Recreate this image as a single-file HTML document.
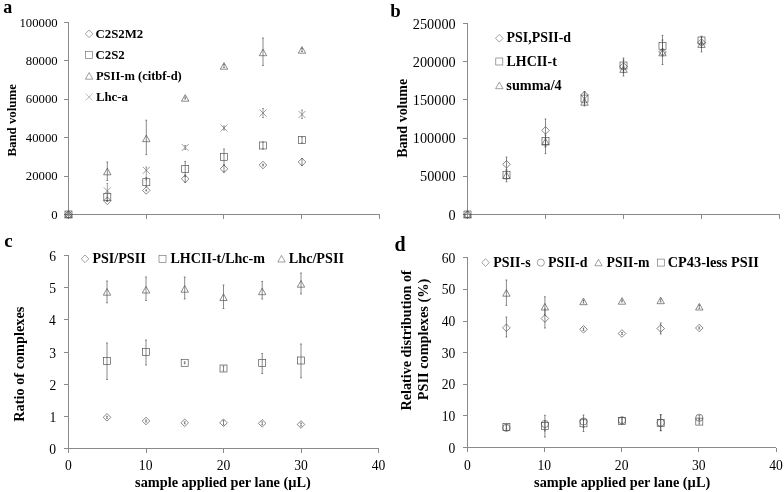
<!DOCTYPE html>
<html><head><meta charset="utf-8"><title>Figure</title>
<style>
html,body{margin:0;padding:0;background:#fff;}
svg{display:block;}
text{font-family:"Liberation Serif","Times New Roman",serif;fill:#000;}
text.b{font-weight:bold;}
</style></head><body>
<svg width="784" height="492" viewBox="0 0 784 492">
<rect width="784" height="492" fill="#fff"/>
<text class="b" font-size="18" transform="translate(3.36,13.40) scale(1.0000,1)">a</text>
<g stroke="#8a8a8a" stroke-width="1" fill="none" shape-rendering="crispEdges"><path d="M68.5 22.5L68.5 214.5M68.5 214.5L380 214.5"/><path d="M64.0 214.5L68.5 214.5"/><path d="M64.0 176.1L68.5 176.1"/><path d="M64.0 137.7L68.5 137.7"/><path d="M64.0 99.3L68.5 99.3"/><path d="M64.0 60.9L68.5 60.9"/><path d="M64.0 22.5L68.5 22.5"/><path d="M68.5 214.5L68.5 218.5"/><path d="M146.5 214.5L146.5 218.5"/><path d="M223.5 214.5L223.5 218.5"/><path d="M301.5 214.5L301.5 218.5"/><path d="M379.5 214.5L379.5 218.5"/></g>
<text class="r" font-size="12.6" transform="translate(51.28,218.50) scale(1.0100,1)" fill="#1c1c1c">0</text>
<text class="r" font-size="12.6" transform="translate(25.83,180.10) scale(1.0100,1)" fill="#1c1c1c">20000</text>
<text class="r" font-size="12.6" transform="translate(25.83,141.70) scale(1.0100,1)" fill="#1c1c1c">40000</text>
<text class="r" font-size="12.6" transform="translate(25.83,103.30) scale(1.0100,1)" fill="#1c1c1c">60000</text>
<text class="r" font-size="12.6" transform="translate(25.83,64.90) scale(1.0100,1)" fill="#1c1c1c">80000</text>
<text class="r" font-size="12.6" transform="translate(19.47,26.50) scale(1.0100,1)" fill="#1c1c1c">100000</text>
<text class="b" font-size="13.4" transform="translate(16.30,156.49) rotate(-90) scale(0.9582,1)">Band volume</text>
<g stroke="#4a4a4a" stroke-width="0.65" fill="none"><path d="M64.70 214.50L68.50 210.70L72.30 214.50L68.50 218.30Z"/><path d="M107.30 200.20L107.30 201.40M106.40 200.20L108.20 200.20M106.40 201.40L108.20 201.40"/><path d="M103.50 200.80L107.30 197.00L111.10 200.80L107.30 204.60Z"/><path d="M146.30 189.90L146.30 190.90M145.40 189.90L147.20 189.90M145.40 190.90L147.20 190.90"/><path d="M142.50 190.40L146.30 186.60L150.10 190.40L146.30 194.20Z"/><path d="M185.20 175.00L185.20 182.50M184.30 175.00L186.10 175.00M184.30 182.50L186.10 182.50"/><path d="M181.40 178.80L185.20 175.00L189.00 178.80L185.20 182.60Z"/><path d="M224.00 165.50L224.00 172.00M223.10 165.50L224.90 165.50M223.10 172.00L224.90 172.00"/><path d="M220.20 168.80L224.00 165.00L227.80 168.80L224.00 172.60Z"/><path d="M263.00 164.20L263.00 165.80M262.10 164.20L263.90 164.20M262.10 165.80L263.90 165.80"/><path d="M259.20 165.00L263.00 161.20L266.80 165.00L263.00 168.80Z"/><path d="M302.00 158.50L302.00 165.50M301.10 158.50L302.90 158.50M301.10 165.50L302.90 165.50"/><path d="M298.20 162.00L302.00 158.20L305.80 162.00L302.00 165.80Z"/></g>
<g stroke="#4a4a4a" stroke-width="0.65" fill="none"><rect x="65.00" y="211.00" width="7.00" height="7.00"/><path d="M107.30 193.00L107.30 201.00M106.40 193.00L108.20 193.00M106.40 201.00L108.20 201.00"/><rect x="103.80" y="193.50" width="7.00" height="7.00"/><path d="M146.30 177.50L146.30 187.00M145.40 177.50L147.20 177.50M145.40 187.00L147.20 187.00"/><rect x="142.80" y="178.70" width="7.00" height="7.00"/><path d="M185.20 161.50L185.20 176.50M184.30 161.50L186.10 161.50M184.30 176.50L186.10 176.50"/><rect x="181.70" y="165.50" width="7.00" height="7.00"/><path d="M224.00 149.00L224.00 164.50M223.10 149.00L224.90 149.00M223.10 164.50L224.90 164.50"/><rect x="220.50" y="153.30" width="7.00" height="7.00"/><path d="M263.00 142.00L263.00 149.00M262.10 142.00L263.90 142.00M262.10 149.00L263.90 149.00"/><rect x="259.50" y="142.00" width="7.00" height="7.00"/><path d="M302.00 137.00L302.00 143.00M301.10 137.00L302.90 137.00M301.10 143.00L302.90 143.00"/><rect x="298.50" y="136.50" width="7.00" height="7.00"/></g>
<g stroke="#4a4a4a" stroke-width="0.65" fill="none"><path d="M68.50 210.90L72.20 217.50L64.80 217.50Z"/><path d="M107.30 162.00L107.30 180.50M106.40 162.00L108.20 162.00M106.40 180.50L108.20 180.50"/><path d="M107.30 168.20L111.00 174.80L103.60 174.80Z"/><path d="M146.30 120.20L146.30 154.60M145.40 120.20L147.20 120.20M145.40 154.60L147.20 154.60"/><path d="M146.30 135.10L150.00 141.70L142.60 141.70Z"/><path d="M185.20 97.00L185.20 99.00M184.30 97.00L186.10 97.00M184.30 99.00L186.10 99.00"/><path d="M185.20 94.60L188.90 101.20L181.50 101.20Z"/><path d="M224.00 64.50L224.00 67.50M223.10 64.50L224.90 64.50M223.10 67.50L224.90 67.50"/><path d="M224.00 62.60L227.70 69.20L220.30 69.20Z"/><path d="M263.00 38.00L263.00 65.50M262.10 38.00L263.90 38.00M262.10 65.50L263.90 65.50"/><path d="M263.00 49.10L266.70 55.70L259.30 55.70Z"/><path d="M302.00 48.50L302.00 51.50M301.10 48.50L302.90 48.50M301.10 51.50L302.90 51.50"/><path d="M302.00 46.60L305.70 53.20L298.30 53.20Z"/></g>
<g stroke="#6a6a6a" stroke-width="0.65" fill="none"><path d="M65.00 211.00L72.00 218.00M65.00 218.00L72.00 211.00"/><path d="M107.30 183.40L107.30 198.00M106.40 183.40L108.20 183.40M106.40 198.00L108.20 198.00"/><path d="M103.80 187.40L110.80 194.40M103.80 194.40L110.80 187.40"/><path d="M146.30 167.00L146.30 180.00M145.40 167.00L147.20 167.00M145.40 180.00L147.20 180.00"/><path d="M142.80 166.80L149.80 173.80M142.80 173.80L149.80 166.80"/><path d="M185.20 145.50L185.20 149.50M184.30 145.50L186.10 145.50M184.30 149.50L186.10 149.50"/><path d="M181.70 144.00L188.70 151.00M181.70 151.00L188.70 144.00"/><path d="M224.00 126.00L224.00 130.00M223.10 126.00L224.90 126.00M223.10 130.00L224.90 130.00"/><path d="M220.50 124.50L227.50 131.50M220.50 131.50L227.50 124.50"/><path d="M263.00 108.50L263.00 117.50M262.10 108.50L263.90 108.50M262.10 117.50L263.90 117.50"/><path d="M259.50 109.50L266.50 116.50M259.50 116.50L266.50 109.50"/><path d="M302.00 110.00L302.00 118.50M301.10 110.00L302.90 110.00M301.10 118.50L302.90 118.50"/><path d="M298.50 111.00L305.50 118.00M298.50 118.00L305.50 111.00"/></g>
<g stroke="#6e6e6e" stroke-width="0.65" fill="none"><path d="M85.30 33.80L89.10 30.00L92.90 33.80L89.10 37.60Z"/></g>
<text class="b" font-size="12.6" transform="translate(95.46,38.00) scale(1.0200,1)">C2S2M2</text>
<g stroke="#6e6e6e" stroke-width="0.65" fill="none"><rect x="85.60" y="51.40" width="7.00" height="7.00"/></g>
<text class="b" font-size="12.6" transform="translate(95.46,59.00) scale(1.0200,1)">C2S2</text>
<g stroke="#6e6e6e" stroke-width="0.65" fill="none"><path d="M89.10 72.60L92.80 79.20L85.40 79.20Z"/></g>
<text class="b" font-size="12.6" transform="translate(95.91,80.00) scale(0.9948,1)">PSII-m (citbf-d)</text>
<g stroke="#9a9a9a" stroke-width="0.65" fill="none"><path d="M85.60 93.50L92.60 100.50M85.60 100.50L92.60 93.50"/></g>
<text class="b" font-size="12.6" transform="translate(95.91,101.00) scale(1.0200,1)">Lhc-a</text>
<text class="b" font-size="18.8" transform="translate(390.31,17.30) scale(1.0000,1)">b</text>
<g stroke="#8a8a8a" stroke-width="1" fill="none" shape-rendering="crispEdges"><path d="M467.5 23.5L467.5 214.5M467.5 214.5L779.5 214.5"/><path d="M463.0 214.5L467.5 214.5"/><path d="M463.0 176.2L467.5 176.2"/><path d="M463.0 138L467.5 138"/><path d="M463.0 99.8L467.5 99.8"/><path d="M463.0 61.5L467.5 61.5"/><path d="M463.0 23.5L467.5 23.5"/><path d="M467.5 214.5L467.5 218.5"/><path d="M545.5 214.5L545.5 218.5"/><path d="M623.5 214.5L623.5 218.5"/><path d="M701.5 214.5L701.5 218.5"/><path d="M779.5 214.5L779.5 218.5"/></g>
<text class="r" font-size="13.8" transform="translate(448.56,219.50) scale(1.0350,1)" fill="#1c1c1c">0</text>
<text class="r" font-size="13.8" transform="translate(419.99,181.20) scale(1.0350,1)" fill="#1c1c1c">50000</text>
<text class="r" font-size="13.8" transform="translate(412.85,143.00) scale(1.0350,1)" fill="#1c1c1c">100000</text>
<text class="r" font-size="13.8" transform="translate(412.85,104.80) scale(1.0350,1)" fill="#1c1c1c">150000</text>
<text class="r" font-size="13.8" transform="translate(412.85,66.50) scale(1.0350,1)" fill="#1c1c1c">200000</text>
<text class="r" font-size="13.8" transform="translate(412.85,28.50) scale(1.0350,1)" fill="#1c1c1c">250000</text>
<text class="b" font-size="14" transform="translate(406.50,157.71) rotate(-90) scale(0.9987,1)">Band volume</text>
<g stroke="#4a4a4a" stroke-width="0.65" fill="none"><path d="M463.70 214.50L467.50 210.70L471.30 214.50L467.50 218.30Z"/><path d="M506.50 157.00L506.50 170.00M505.60 157.00L507.40 157.00M505.60 170.00L507.40 170.00"/><path d="M502.70 164.30L506.50 160.50L510.30 164.30L506.50 168.10Z"/><path d="M545.50 119.00L545.50 153.60M544.60 119.00L546.40 119.00M544.60 153.60L546.40 153.60"/><path d="M541.70 130.40L545.50 126.60L549.30 130.40L545.50 134.20Z"/><path d="M584.50 91.50L584.50 99.00M583.60 91.50L585.40 91.50M583.60 99.00L585.40 99.00"/><path d="M580.70 95.00L584.50 91.20L588.30 95.00L584.50 98.80Z"/><path d="M623.50 58.00L623.50 76.00M622.60 58.00L624.40 58.00M622.60 76.00L624.40 76.00"/><path d="M619.70 66.50L623.50 62.70L627.30 66.50L623.50 70.30Z"/><path d="M662.50 35.30L662.50 64.50M661.60 35.30L663.40 35.30M661.60 64.50L663.40 64.50"/><path d="M658.70 52.00L662.50 48.20L666.30 52.00L662.50 55.80Z"/><path d="M701.50 36.20L701.50 51.90M700.60 36.20L702.40 36.20M700.60 51.90L702.40 51.90"/><path d="M697.70 42.50L701.50 38.70L705.30 42.50L701.50 46.30Z"/></g>
<g stroke="#4a4a4a" stroke-width="0.65" fill="none"><rect x="464.00" y="211.00" width="7.00" height="7.00"/><path d="M506.50 170.00L506.50 181.80M505.60 170.00L507.40 170.00M505.60 181.80L507.40 181.80"/><rect x="503.00" y="171.30" width="7.00" height="7.00"/><path d="M545.50 135.00L545.50 147.00M544.60 135.00L546.40 135.00M544.60 147.00L546.40 147.00"/><rect x="542.00" y="137.50" width="7.00" height="7.00"/><path d="M584.50 93.00L584.50 104.00M583.60 93.00L585.40 93.00M583.60 104.00L585.40 104.00"/><rect x="581.00" y="95.10" width="7.00" height="7.00"/><path d="M623.50 60.00L623.50 71.00M622.60 60.00L624.40 60.00M622.60 71.00L624.40 71.00"/><rect x="620.00" y="62.00" width="7.00" height="7.00"/><path d="M662.50 40.00L662.50 51.00M661.60 40.00L663.40 40.00M661.60 51.00L663.40 51.00"/><rect x="659.00" y="42.30" width="7.00" height="7.00"/><path d="M701.50 37.00L701.50 44.00M700.60 37.00L702.40 37.00M700.60 44.00L702.40 44.00"/><rect x="698.00" y="37.00" width="7.00" height="7.00"/></g>
<g stroke="#4a4a4a" stroke-width="0.65" fill="none"><path d="M467.50 210.90L471.20 217.50L463.80 217.50Z"/><path d="M506.50 172.00L506.50 179.00M505.60 172.00L507.40 172.00M505.60 179.00L507.40 179.00"/><path d="M506.50 172.10L510.20 178.70L502.80 178.70Z"/><path d="M545.50 138.00L545.50 146.00M544.60 138.00L546.40 138.00M544.60 146.00L546.40 146.00"/><path d="M545.50 138.40L549.20 145.00L541.80 145.00Z"/><path d="M584.50 99.00L584.50 106.00M583.60 99.00L585.40 99.00M583.60 106.00L585.40 106.00"/><path d="M584.50 98.60L588.20 105.20L580.80 105.20Z"/><path d="M623.50 65.00L623.50 73.00M622.60 65.00L624.40 65.00M622.60 73.00L624.40 73.00"/><path d="M623.50 65.80L627.20 72.40L619.80 72.40Z"/><path d="M662.50 49.00L662.50 56.00M661.60 49.00L663.40 49.00M661.60 56.00L663.40 56.00"/><path d="M662.50 49.20L666.20 55.80L658.80 55.80Z"/><path d="M701.50 41.00L701.50 47.50M700.60 41.00L702.40 41.00M700.60 47.50L702.40 47.50"/><path d="M701.50 40.80L705.20 47.40L697.80 47.40Z"/></g>
<g stroke="#6e6e6e" stroke-width="0.65" fill="none"><path d="M495.50 38.30L499.30 34.50L503.10 38.30L499.30 42.10Z"/></g>
<text class="b" font-size="13.9" transform="translate(506.59,42.30) scale(1.0000,1)">PSI,PSII-d</text>
<g stroke="#6e6e6e" stroke-width="0.65" fill="none"><rect x="495.80" y="58.00" width="7.00" height="7.00"/></g>
<text class="b" font-size="13.9" transform="translate(506.59,65.50) scale(1.0000,1)">LHCII-t</text>
<g stroke="#6e6e6e" stroke-width="0.65" fill="none"><path d="M499.30 82.10L503.00 88.70L495.60 88.70Z"/></g>
<text class="b" font-size="13.9" transform="translate(506.37,89.60) scale(1.0253,1)">summa/4</text>
<text class="b" font-size="19" transform="translate(4.33,246.70) scale(1.0000,1)">c</text>
<g stroke="#8a8a8a" stroke-width="1" fill="none" shape-rendering="crispEdges"><path d="M68.5 255.5L68.5 448.5M68.5 448.5L378.5 448.5"/><path d="M64.0 448.5L68.5 448.5"/><path d="M64.0 416.5L68.5 416.5"/><path d="M64.0 384.5L68.5 384.5"/><path d="M64.0 352.5L68.5 352.5"/><path d="M64.0 319.5L68.5 319.5"/><path d="M64.0 287.5L68.5 287.5"/><path d="M64.0 255.5L68.5 255.5"/><path d="M68.5 448.5L68.5 452.5"/><path d="M146 448.5L146 452.5"/><path d="M223.5 448.5L223.5 452.5"/><path d="M301 448.5L301 452.5"/><path d="M378.5 448.5L378.5 452.5"/></g>
<text class="r" font-size="13.6" transform="translate(49.28,453.70) scale(1.0000,1)" fill="#1c1c1c">0</text>
<text class="r" font-size="13.6" transform="translate(49.62,421.70) scale(1.0000,1)" fill="#1c1c1c">1</text>
<text class="r" font-size="13.6" transform="translate(49.55,389.70) scale(1.0000,1)" fill="#1c1c1c">2</text>
<text class="r" font-size="13.6" transform="translate(49.34,357.70) scale(1.0000,1)" fill="#1c1c1c">3</text>
<text class="r" font-size="13.6" transform="translate(49.00,324.70) scale(1.0000,1)" fill="#1c1c1c">4</text>
<text class="r" font-size="13.6" transform="translate(49.34,292.70) scale(1.0000,1)" fill="#1c1c1c">5</text>
<text class="r" font-size="13.6" transform="translate(49.21,260.70) scale(1.0000,1)" fill="#1c1c1c">6</text>
<text class="r" font-size="13.6" transform="translate(65.10,469.60) scale(1.0000,1)" fill="#1c1c1c">0</text>
<text class="r" font-size="13.6" transform="translate(138.86,469.60) scale(1.0000,1)" fill="#1c1c1c">10</text>
<text class="r" font-size="13.6" transform="translate(216.63,469.60) scale(1.0000,1)" fill="#1c1c1c">20</text>
<text class="r" font-size="13.6" transform="translate(294.13,469.60) scale(1.0000,1)" fill="#1c1c1c">30</text>
<text class="r" font-size="13.6" transform="translate(371.80,469.60) scale(1.0000,1)" fill="#1c1c1c">40</text>
<text class="b" font-size="14.2" transform="translate(23.50,421.71) rotate(-90) scale(1.0060,1)">Ratio of complexes</text>
<text class="b" font-size="14.2" transform="translate(135.07,487.00) scale(1.0093,1)">sample applied per lane (µL)</text>
<g stroke="#4a4a4a" stroke-width="0.65" fill="none"><path d="M107.00 416.30L107.00 418.30M106.10 416.30L107.90 416.30M106.10 418.30L107.90 418.30"/><path d="M103.20 417.30L107.00 413.50L110.80 417.30L107.00 421.10Z"/><path d="M146.00 420.00L146.00 422.00M145.10 420.00L146.90 420.00M145.10 422.00L146.90 422.00"/><path d="M142.20 421.00L146.00 417.20L149.80 421.00L146.00 424.80Z"/><path d="M184.70 421.80L184.70 423.80M183.80 421.80L185.60 421.80M183.80 423.80L185.60 423.80"/><path d="M180.90 422.80L184.70 419.00L188.50 422.80L184.70 426.60Z"/><path d="M223.50 420.50L223.50 425.00M222.60 420.50L224.40 420.50M222.60 425.00L224.40 425.00"/><path d="M219.70 422.80L223.50 419.00L227.30 422.80L223.50 426.60Z"/><path d="M262.20 421.80L262.20 424.80M261.30 421.80L263.10 421.80M261.30 424.80L263.10 424.80"/><path d="M258.40 423.30L262.20 419.50L266.00 423.30L262.20 427.10Z"/><path d="M301.00 423.00L301.00 426.00M300.10 423.00L301.90 423.00M300.10 426.00L301.90 426.00"/><path d="M297.20 424.50L301.00 420.70L304.80 424.50L301.00 428.30Z"/></g>
<g stroke="#4a4a4a" stroke-width="0.65" fill="none"><path d="M107.00 343.00L107.00 379.50M106.10 343.00L107.90 343.00M106.10 379.50L107.90 379.50"/><rect x="103.50" y="357.50" width="7.00" height="7.00"/><path d="M146.00 340.00L146.00 365.00M145.10 340.00L146.90 340.00M145.10 365.00L146.90 365.00"/><rect x="142.50" y="348.50" width="7.00" height="7.00"/><path d="M184.70 361.80L184.70 363.80M183.80 361.80L185.60 361.80M183.80 363.80L185.60 363.80"/><rect x="181.20" y="359.30" width="7.00" height="7.00"/><path d="M223.50 366.00L223.50 371.00M222.60 366.00L224.40 366.00M222.60 371.00L224.40 371.00"/><rect x="220.00" y="365.00" width="7.00" height="7.00"/><path d="M262.20 353.50L262.20 373.50M261.30 353.50L263.10 353.50M261.30 373.50L263.10 373.50"/><rect x="258.70" y="359.50" width="7.00" height="7.00"/><path d="M301.00 344.00L301.00 377.80M300.10 344.00L301.90 344.00M300.10 377.80L301.90 377.80"/><rect x="297.50" y="357.00" width="7.00" height="7.00"/></g>
<g stroke="#4a4a4a" stroke-width="0.65" fill="none"><path d="M107.00 281.00L107.00 302.80M106.10 281.00L107.90 281.00M106.10 302.80L107.90 302.80"/><path d="M107.00 288.60L110.70 295.20L103.30 295.20Z"/><path d="M146.00 277.00L146.00 300.50M145.10 277.00L146.90 277.00M145.10 300.50L146.90 300.50"/><path d="M146.00 286.40L149.70 293.00L142.30 293.00Z"/><path d="M184.70 277.00L184.70 299.00M183.80 277.00L185.60 277.00M183.80 299.00L185.60 299.00"/><path d="M184.70 285.60L188.40 292.20L181.00 292.20Z"/><path d="M223.50 285.00L223.50 308.50M222.60 285.00L224.40 285.00M222.60 308.50L224.40 308.50"/><path d="M223.50 293.90L227.20 300.50L219.80 300.50Z"/><path d="M262.20 281.50L262.20 299.00M261.30 281.50L263.10 281.50M261.30 299.00L263.10 299.00"/><path d="M262.20 288.10L265.90 294.70L258.50 294.70Z"/><path d="M301.00 273.00L301.00 294.00M300.10 273.00L301.90 273.00M300.10 294.00L301.90 294.00"/><path d="M301.00 280.60L304.70 287.20L297.30 287.20Z"/></g>
<g stroke="#6e6e6e" stroke-width="0.65" fill="none"><path d="M81.20 258.80L85.00 255.00L88.80 258.80L85.00 262.60Z"/></g>
<text class="b" font-size="13.95" transform="translate(92.39,263.10) scale(1.0109,1)">PSI/PSII</text>
<g stroke="#6e6e6e" stroke-width="0.65" fill="none"><rect x="159.00" y="255.30" width="7.00" height="7.00"/></g>
<text class="b" font-size="13.95" transform="translate(170.49,263.10) scale(1.0083,1)">LHCII-t/Lhc-m</text>
<g stroke="#6e6e6e" stroke-width="0.65" fill="none"><path d="M281.50 255.40L285.20 262.00L277.80 262.00Z"/></g>
<text class="b" font-size="13.95" transform="translate(288.79,263.10) scale(1.0174,1)">Lhc/PSII</text>
<text class="b" font-size="20" transform="translate(394.40,250.50) scale(1.0000,1)">d</text>
<g stroke="#8a8a8a" stroke-width="1" fill="none" shape-rendering="crispEdges"><path d="M467.5 257.8L467.5 447.5M467.5 447.5L776 447.5"/><path d="M463.0 447.5L467.5 447.5"/><path d="M463.0 415.9L467.5 415.9"/><path d="M463.0 384.2L467.5 384.2"/><path d="M463.0 352.6L467.5 352.6"/><path d="M463.0 321L467.5 321"/><path d="M463.0 289.3L467.5 289.3"/><path d="M463.0 257.8L467.5 257.8"/><path d="M467.5 447.5L467.5 451.5"/><path d="M544.6 447.5L544.6 451.5"/><path d="M621.7 447.5L621.7 451.5"/><path d="M698.9 447.5L698.9 451.5"/><path d="M776 447.5L776 451.5"/></g>
<text class="r" font-size="13.6" transform="translate(448.48,452.50) scale(1.0000,1)" fill="#1c1c1c">0</text>
<text class="r" font-size="13.6" transform="translate(441.68,420.90) scale(1.0000,1)" fill="#1c1c1c">10</text>
<text class="r" font-size="13.6" transform="translate(441.68,389.20) scale(1.0000,1)" fill="#1c1c1c">20</text>
<text class="r" font-size="13.6" transform="translate(441.68,357.60) scale(1.0000,1)" fill="#1c1c1c">30</text>
<text class="r" font-size="13.6" transform="translate(441.68,326.00) scale(1.0000,1)" fill="#1c1c1c">40</text>
<text class="r" font-size="13.6" transform="translate(441.68,294.30) scale(1.0000,1)" fill="#1c1c1c">50</text>
<text class="r" font-size="13.6" transform="translate(441.68,262.80) scale(1.0000,1)" fill="#1c1c1c">60</text>
<text class="r" font-size="13.6" transform="translate(464.10,469.60) scale(1.0000,1)" fill="#1c1c1c">0</text>
<text class="r" font-size="13.6" transform="translate(537.46,469.60) scale(1.0000,1)" fill="#1c1c1c">10</text>
<text class="r" font-size="13.6" transform="translate(614.83,469.60) scale(1.0000,1)" fill="#1c1c1c">20</text>
<text class="r" font-size="13.6" transform="translate(692.03,469.60) scale(1.0000,1)" fill="#1c1c1c">30</text>
<text class="r" font-size="13.6" transform="translate(769.30,469.60) scale(1.0000,1)" fill="#1c1c1c">40</text>
<text class="b" font-size="14.25" transform="translate(411.20,410.61) rotate(-90) scale(0.9967,1)">Relative distribution of</text>
<text class="b" font-size="14.25" transform="translate(427.60,400.21) rotate(-90) scale(1.0044,1)">PSII complexes (%)</text>
<text class="b" font-size="14.2" transform="translate(534.07,487.00) scale(1.0111,1)">sample applied per lane (µL)</text>
<g stroke="#4a4a4a" stroke-width="0.65" fill="none"><path d="M506.40 317.00L506.40 337.00M505.50 317.00L507.30 317.00M505.50 337.00L507.30 337.00"/><path d="M502.60 327.80L506.40 324.00L510.20 327.80L506.40 331.60Z"/><path d="M544.90 309.00L544.90 328.00M544.00 309.00L545.80 309.00M544.00 328.00L545.80 328.00"/><path d="M541.10 318.50L544.90 314.70L548.70 318.50L544.90 322.30Z"/><path d="M583.50 328.00L583.50 330.50M582.60 328.00L584.40 328.00M582.60 330.50L584.40 330.50"/><path d="M579.70 329.30L583.50 325.50L587.30 329.30L583.50 333.10Z"/><path d="M622.00 332.50L622.00 334.50M621.10 332.50L622.90 332.50M621.10 334.50L622.90 334.50"/><path d="M618.20 333.50L622.00 329.70L625.80 333.50L622.00 337.30Z"/><path d="M660.70 323.00L660.70 334.00M659.80 323.00L661.60 323.00M659.80 334.00L661.60 334.00"/><path d="M656.90 328.50L660.70 324.70L664.50 328.50L660.70 332.30Z"/><path d="M699.30 327.00L699.30 329.00M698.40 327.00L700.20 327.00M698.40 329.00L700.20 329.00"/><path d="M695.50 328.00L699.30 324.20L703.10 328.00L699.30 331.80Z"/></g>
<g stroke="#4a4a4a" stroke-width="0.65" fill="none"><path d="M506.40 425.00L506.40 430.50M505.50 425.00L507.30 425.00M505.50 430.50L507.30 430.50"/><circle cx="506.40" cy="427.80" r="3.6"/><path d="M544.90 415.30L544.90 437.00M544.00 415.30L545.80 415.30M544.00 437.00L545.80 437.00"/><circle cx="544.90" cy="424.00" r="3.6"/><path d="M583.50 415.00L583.50 431.50M582.60 415.00L584.40 415.00M582.60 431.50L584.40 431.50"/><circle cx="583.50" cy="421.50" r="3.6"/><path d="M622.00 417.50L622.00 423.00M621.10 417.50L622.90 417.50M621.10 423.00L622.90 423.00"/><circle cx="622.00" cy="420.30" r="3.6"/><path d="M660.70 414.70L660.70 430.70M659.80 414.70L661.60 414.70M659.80 430.70L661.60 430.70"/><circle cx="660.70" cy="422.70" r="3.6"/><path d="M699.30 415.50L699.30 420.00M698.40 415.50L700.20 415.50M698.40 420.00L700.20 420.00"/><circle cx="699.30" cy="417.80" r="3.6"/></g>
<g stroke="#4a4a4a" stroke-width="0.65" fill="none"><path d="M506.40 280.00L506.40 305.40M505.50 280.00L507.30 280.00M505.50 305.40L507.30 305.40"/><path d="M506.40 289.60L510.10 296.20L502.70 296.20Z"/><path d="M544.90 296.80L544.90 315.00M544.00 296.80L545.80 296.80M544.00 315.00L545.80 315.00"/><path d="M544.90 303.40L548.60 310.00L541.20 310.00Z"/><path d="M583.50 300.00L583.50 303.00M582.60 300.00L584.40 300.00M582.60 303.00L584.40 303.00"/><path d="M583.50 298.10L587.20 304.70L579.80 304.70Z"/><path d="M622.00 300.00L622.00 302.00M621.10 300.00L622.90 300.00M621.10 302.00L622.90 302.00"/><path d="M622.00 297.60L625.70 304.20L618.30 304.20Z"/><path d="M660.70 299.00L660.70 302.00M659.80 299.00L661.60 299.00M659.80 302.00L661.60 302.00"/><path d="M660.70 297.10L664.40 303.70L657.00 303.70Z"/><path d="M699.30 305.00L699.30 308.50M698.40 305.00L700.20 305.00M698.40 308.50L700.20 308.50"/><path d="M699.30 303.40L703.00 310.00L695.60 310.00Z"/></g>
<g stroke="#4a4a4a" stroke-width="0.65" fill="none"><path d="M506.40 425.00L506.40 429.00M505.50 425.00L507.30 425.00M505.50 429.00L507.30 429.00"/><rect x="502.90" y="423.50" width="7.00" height="7.00"/><path d="M544.90 421.00L544.90 431.00M544.00 421.00L545.80 421.00M544.00 431.00L545.80 431.00"/><rect x="541.40" y="422.50" width="7.00" height="7.00"/><path d="M583.50 419.00L583.50 427.50M582.60 419.00L584.40 419.00M582.60 427.50L584.40 427.50"/><rect x="580.00" y="419.80" width="7.00" height="7.00"/><path d="M622.00 417.70L622.00 424.20M621.10 417.70L622.90 417.70M621.10 424.20L622.90 424.20"/><rect x="618.50" y="417.50" width="7.00" height="7.00"/><path d="M660.70 414.70L660.70 430.70M659.80 414.70L661.60 414.70M659.80 430.70L661.60 430.70"/><rect x="657.20" y="419.50" width="7.00" height="7.00"/><path d="M699.30 419.00L699.30 424.00M698.40 419.00L700.20 419.00M698.40 424.00L700.20 424.00"/><rect x="695.80" y="418.10" width="7.00" height="7.00"/></g>
<g stroke="#6e6e6e" stroke-width="0.65" fill="none"><path d="M481.70 262.60L485.50 258.80L489.30 262.60L485.50 266.40Z"/></g>
<text class="b" font-size="13.95" transform="translate(493.29,266.70) scale(1.0030,1)">PSII-s</text>
<g stroke="#6e6e6e" stroke-width="0.65" fill="none"><circle cx="540.80" cy="262.60" r="3.6"/></g>
<text class="b" font-size="13.95" transform="translate(547.99,266.70) scale(1.0000,1)">PSII-d</text>
<g stroke="#6e6e6e" stroke-width="0.65" fill="none"><path d="M598.50 259.20L602.20 265.80L594.80 265.80Z"/></g>
<text class="b" font-size="13.95" transform="translate(606.59,266.70) scale(0.9892,1)">PSII-m</text>
<g stroke="#6e6e6e" stroke-width="0.65" fill="none"><rect x="657.30" y="259.10" width="7.00" height="7.00"/></g>
<text class="b" font-size="13.95" transform="translate(667.78,266.70) scale(1.0281,1)">CP43-less PSII</text>
</svg>
</body></html>
